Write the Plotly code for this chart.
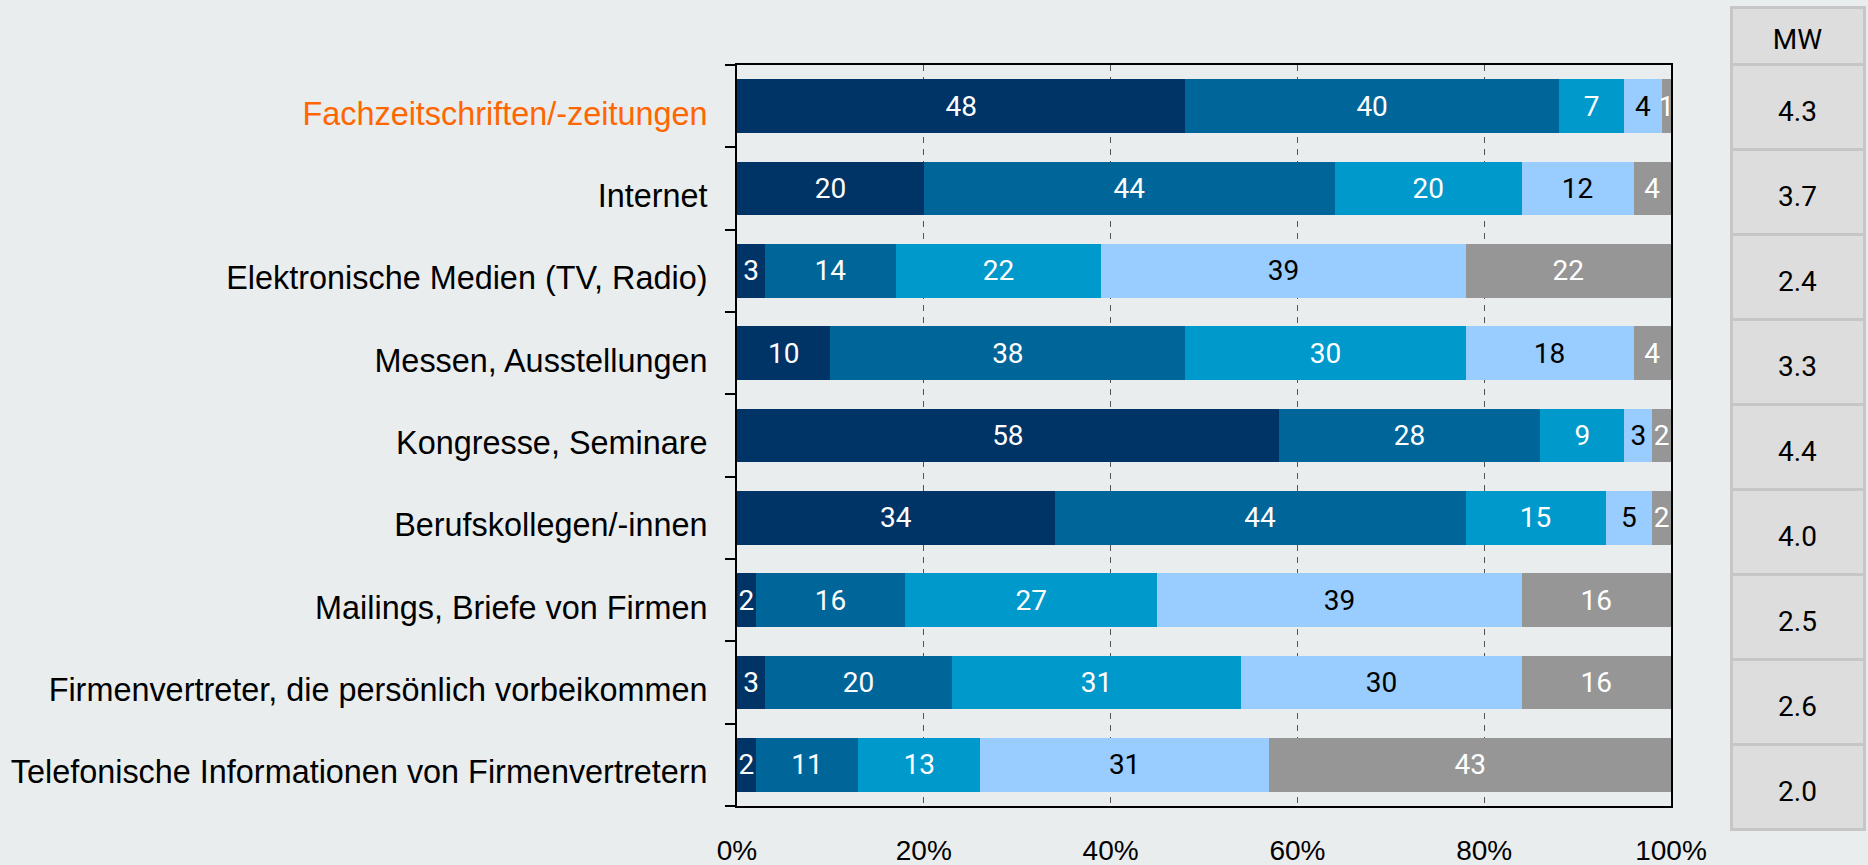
import plotly.graph_objects as go

# categories (top to bottom)
categories = [
    "Fachzeitschriften/-zeitungen",
    "Internet",
    "Elektronische Medien (TV, Radio)",
    "Messen, Ausstellungen",
    "Kongresse, Seminare",
    "Berufskollegen/-innen",
    "Mailings, Briefe von Firmen",
    "Firmenvertreter, die persönlich vorbeikommen",
    "Telefonische Informationen von Firmenvertretern",
]

# share per answer level, in %
level_1 = [48, 20, 3, 10, 58, 34, 2, 3, 2]
level_2 = [40, 44, 14, 38, 28, 44, 16, 20, 11]
level_3 = [7, 20, 22, 30, 9, 15, 27, 31, 13]
level_4 = [4, 12, 39, 18, 3, 5, 39, 30, 31]
level_5 = [1, 4, 22, 4, 2, 2, 16, 16, 43]

mean_values = [4.3, 3.7, 2.4, 3.3, 4.4, 4.0, 2.5, 2.6, 2.0]

x_ticks = [0, 20, 40, 60, 80, 100]
x_tick_labels = ["0%", "20%", "40%", "60%", "80%", "100%"]

BG = "#e9edee"
W, H = 1868, 865

series = [
    (level_1, "#003366", "white"),
    (level_2, "#006699", "white"),
    (level_3, "#0099cc", "white"),
    (level_4, "#99ccff", "black"),
    (level_5, "#969696", "white"),
]

# highlight the first category in orange
tick_text = ["<span style='color:#ff6600'>%s</span>" % categories[0]] + categories[1:]

fig = go.Figure()

for values, color, text_color in series:
    fig.add_trace(go.Bar(
        y=categories,
        x=values,
        orientation="h",
        marker=dict(color=color, line=dict(width=0)),
        text=values,
        textposition="inside",
        insidetextanchor="middle",
        textangle=0,
        textfont=dict(family="Roboto", size=28, color=text_color),
        cliponaxis=False,
        showlegend=False,
        hoverinfo="skip",
    ))

# plotly tables are top-aligned: an invisible first line pushes the value down
big = "\u00a0<br><span style='font-size:28px'>%s</span>"

fig.add_trace(go.Table(
    domain=dict(x=[1731 / W, 1865 / W], y=[1 - 834 / H, 1 - 7 / H]),
    columnwidth=[1],
    header=dict(
        values=[big % "MW"],
        height=57,
        fill_color="#dddddd",
        line=dict(color="#c6c6c6", width=3),
        align="center",
        font=dict(family="Roboto", size=15, color="black"),
    ),
    cells=dict(
        values=[[big % ("%.1f" % v) for v in mean_values]],
        height=85,
        fill_color="#dddddd",
        line=dict(color="#c6c6c6", width=3),
        align="center",
        font=dict(family="Roboto", size=22, color="black"),
    ),
))

fig.update_layout(
    width=W,
    height=H,
    template="none",
    barmode="stack",
    bargap=0.35,
    paper_bgcolor=BG,
    plot_bgcolor=BG,
    margin=dict(l=0, r=0, t=0, b=0),
    uniformtext=dict(minsize=28, mode="show"),
)

fig.update_xaxes(
    domain=[737 / W, 1671 / W],
    range=[0, 100],
    tickvals=x_ticks,
    ticktext=x_tick_labels,
    ticks="",
    showgrid=True,
    gridcolor="#555555",
    gridwidth=1,
    griddash="6px,6px",
    showline=True,
    linecolor="black",
    linewidth=2,
    mirror=True,
    zeroline=False,
    ticklabelstandoff=18,
    tickfont=dict(family="Liberation Sans", size=28, color="black"),
    automargin=False,
)

fig.update_yaxes(
    domain=[1 - 806 / H, 1 - 65 / H],
    autorange="reversed",
    tickmode="array",
    tickvals=categories,
    ticktext=tick_text,
    tickson="boundaries",
    ticks="outside",
    ticklen=10,
    tickwidth=2,
    tickcolor="black",
    showgrid=False,
    showline=True,
    linecolor="black",
    linewidth=2,
    mirror=True,
    ticklabelstandoff=21,
    ticklabelshift=-7,
    tickfont=dict(family="Liberation Sans", size=32.4, color="black"),
    automargin=False,
)

fig.write_html(
    "out.html",
    config={"displayModeBar": False},
    post_script="document.body.style.margin='0px';",
)
